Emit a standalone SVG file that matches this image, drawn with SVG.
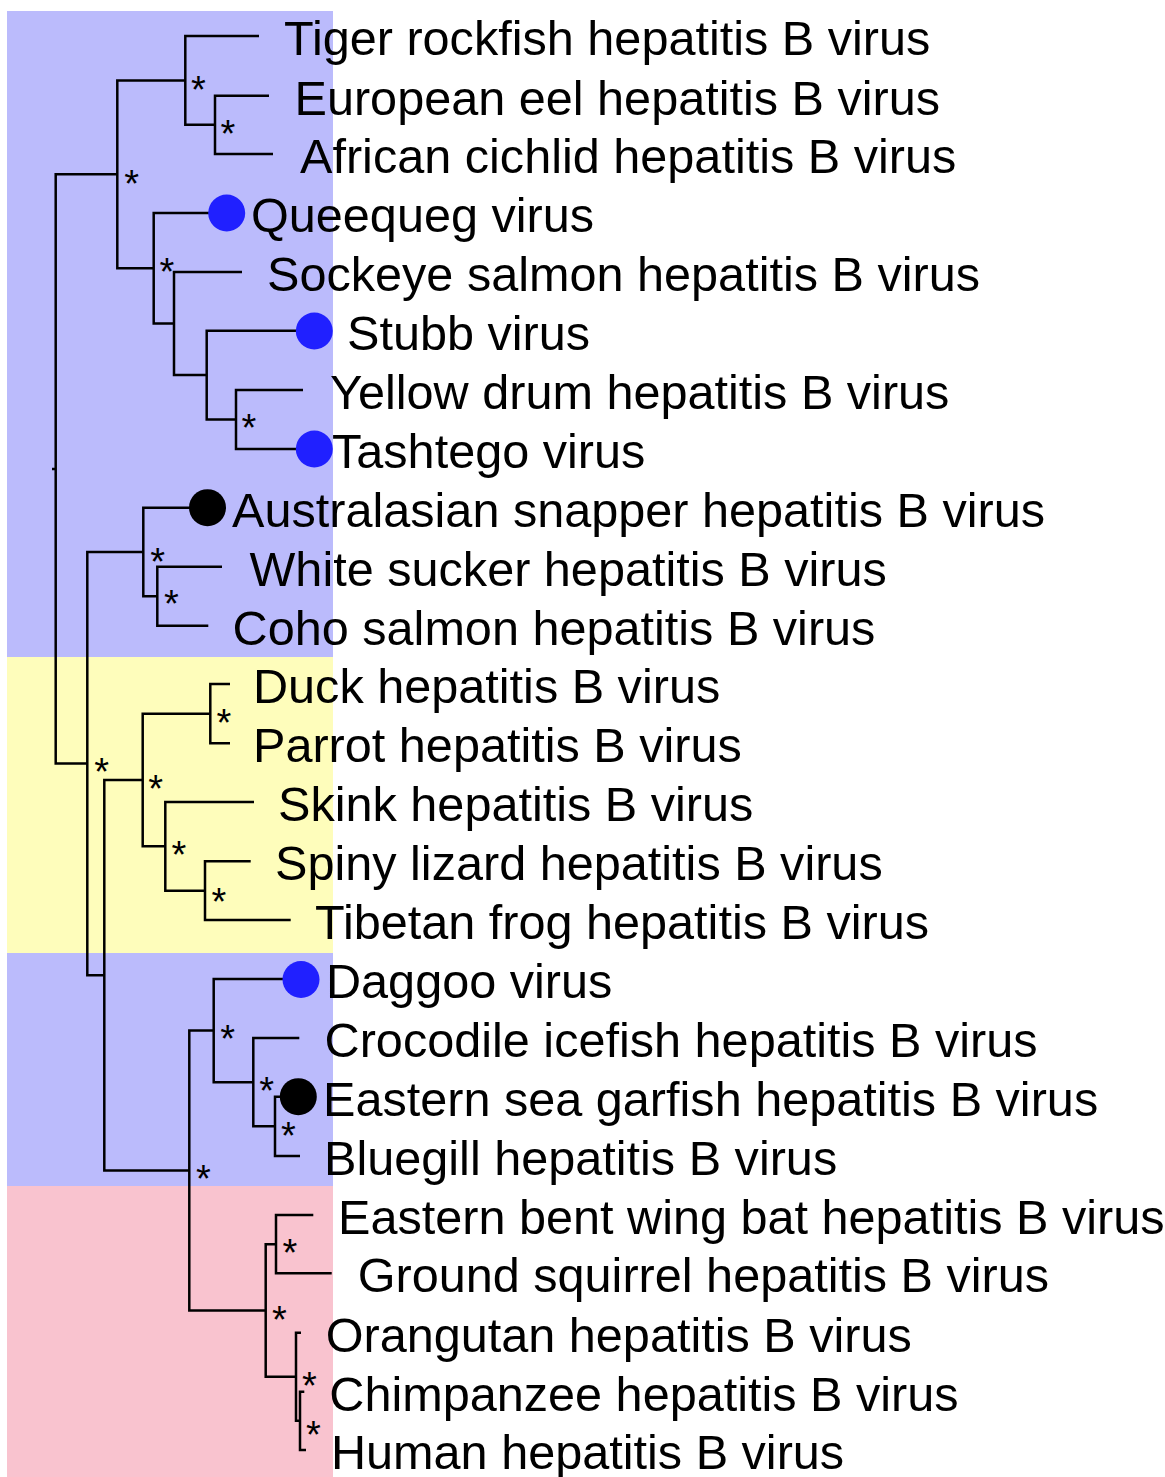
<svg xmlns="http://www.w3.org/2000/svg" width="1165" height="1477" viewBox="0 0 1165 1477">
<style>
.lbl{font-family:"Liberation Sans",Arial,Helvetica,sans-serif;font-size:48.6px;fill:#000}
.st{font-family:"Liberation Sans",Arial,sans-serif;font-size:38px;fill:#000;text-anchor:middle}
.br{fill:none;stroke:#000;stroke-width:2.5;stroke-linejoin:miter;stroke-linecap:butt}
.cb{fill:#2020ff}
.ck{fill:#000}
</style>
<rect width="1165" height="1477" fill="#fff"/>
<g id="bands">
<rect x="7" y="11" width="326" height="646" fill="#bbbbfc"/>
<rect x="7" y="657" width="326" height="296" fill="#fefdbb"/>
<rect x="7" y="953" width="326" height="233" fill="#bbbbfc"/>
<rect x="7" y="1186" width="326" height="291" fill="#f9c3cf"/>
</g>
<g id="connectors" class="br">
<path d="M269,95.7 H215 V154 H273"/>
<path d="M259,36 H185.3 V124.85 H215"/>
<path d="M303,390 H236 V449 H314"/>
<path d="M314,330.7 H206.7 V419.5 H236"/>
<path d="M242,272 H174 V375.1 H206.7"/>
<path d="M226,213 H153.7 V323.5 H174"/>
<path d="M185.3,80.4 H117.3 V268.3 H153.7"/>
<path d="M222,566.7 H157.3 V625.7 H208.3"/>
<path d="M208,507.7 H143.3 V596.2 H157.3"/>
<path d="M230,684 H210.3 V743.3 H230"/>
<path d="M250.7,861.3 H205 V920 H290.7"/>
<path d="M254,802 H165.3 V890.7 H205"/>
<path d="M210.3,713.7 H142.7 V846.3 H165.3"/>
<path d="M298,1096.7 H275 V1156 H300"/>
<path d="M299.3,1038 H253.3 V1126.3 H275"/>
<path d="M301,979 H213.7 V1082.2 H253.3"/>
<path d="M313.3,1215 H276 V1273.3 H331.7"/>
<path d="M304.3,1391.7 H300 V1450 H306"/>
<path d="M301,1332.7 H296 V1420.8 H300"/>
<path d="M276,1244.2 H265.7 V1376.8 H296"/>
<path d="M213.7,1030.6 H189.3 V1310.5 H265.7"/>
<path d="M142.7,780 H104.3 V1170.5 H189.3"/>
<path d="M143.3,552 H87.3 V975.3 H104.3"/>
<path d="M117.3,174.3 H55.7 V763.6 H87.3"/>
<path d="M52,469 H56"/>
</g>
<g id="support">
<text class="st" x="198.5" y="103">*</text>
<text class="st" x="228" y="146.5">*</text>
<text class="st" x="131.7" y="196.5">*</text>
<text class="st" x="167" y="284.5">*</text>
<text class="st" x="249" y="441.2">*</text>
<text class="st" x="157.7" y="574.5">*</text>
<text class="st" x="171.3" y="616.5">*</text>
<text class="st" x="101.7" y="784.5">*</text>
<text class="st" x="155.7" y="801.8">*</text>
<text class="st" x="224" y="735.5">*</text>
<text class="st" x="179" y="867.8">*</text>
<text class="st" x="219" y="914.5">*</text>
<text class="st" x="203.3" y="1191.8">*</text>
<text class="st" x="227.7" y="1051.8">*</text>
<text class="st" x="266.7" y="1103.5">*</text>
<text class="st" x="288.3" y="1148.5">*</text>
<text class="st" x="279.3" y="1332.8">*</text>
<text class="st" x="290" y="1265.5">*</text>
<text class="st" x="309.3" y="1398.8">*</text>
<text class="st" x="313.3" y="1447.8">*</text>
</g>
<g id="leaf-tiger"><text class="lbl" x="284" y="55">Tiger rockfish hepatitis B virus</text></g>
<g id="leaf-eel"><text class="lbl" x="294.5" y="114.7">European eel hepatitis B virus</text></g>
<g id="leaf-cichlid"><text class="lbl" x="300" y="173">African cichlid hepatitis B virus</text></g>
<g id="leaf-queequeg"><circle class="cb" cx="226.7" cy="213" r="18.5"/><text class="lbl" x="251" y="232">Queequeg virus</text></g>
<g id="leaf-sockeye"><text class="lbl" x="267" y="291">Sockeye salmon hepatitis B virus</text></g>
<g id="leaf-stubb"><circle class="cb" cx="314.3" cy="331" r="18.5"/><text class="lbl" x="347" y="349.7">Stubb virus</text></g>
<g id="leaf-yellowdrum"><text class="lbl" x="330" y="409">Yellow drum hepatitis B virus</text></g>
<g id="leaf-tashtego"><circle class="cb" cx="314.3" cy="449" r="18.5"/><text class="lbl" x="332" y="468">Tashtego virus</text></g>
<g id="leaf-australasian"><circle class="ck" cx="207.5" cy="507.7" r="18.5"/><text class="lbl" x="232" y="526.7">Australasian snapper hepatitis B virus</text></g>
<g id="leaf-whitesucker"><text class="lbl" x="249.5" y="585.7">White sucker hepatitis B virus</text></g>
<g id="leaf-coho"><text class="lbl" x="232.6" y="644.7">Coho salmon hepatitis B virus</text></g>
<g id="leaf-duck"><text class="lbl" x="253" y="703">Duck hepatitis B virus</text></g>
<g id="leaf-parrot"><text class="lbl" x="253" y="762.3">Parrot hepatitis B virus</text></g>
<g id="leaf-skink"><text class="lbl" x="278" y="821">Skink hepatitis B virus</text></g>
<g id="leaf-spiny"><text class="lbl" x="275" y="880.3">Spiny lizard hepatitis B virus</text></g>
<g id="leaf-tibetan"><text class="lbl" x="315" y="939">Tibetan frog hepatitis B virus</text></g>
<g id="leaf-daggoo"><circle class="cb" cx="301" cy="979.5" r="18.5"/><text class="lbl" x="326" y="998">Daggoo virus</text></g>
<g id="leaf-icefish"><text class="lbl" x="324.6" y="1057">Crocodile icefish hepatitis B virus</text></g>
<g id="leaf-garfish"><circle class="ck" cx="298.3" cy="1096.7" r="18.5"/><text class="lbl" x="323" y="1115.7">Eastern sea garfish hepatitis B virus</text></g>
<g id="leaf-bluegill"><text class="lbl" x="324" y="1175">Bluegill hepatitis B virus</text></g>
<g id="leaf-bat"><text class="lbl" x="338" y="1234">Eastern bent wing bat hepatitis B virus</text></g>
<g id="leaf-squirrel"><text class="lbl" x="357.7" y="1292.3">Ground squirrel hepatitis B virus</text></g>
<g id="leaf-orangutan"><text class="lbl" x="325.7" y="1351.7">Orangutan hepatitis B virus</text></g>
<g id="leaf-chimp"><text class="lbl" x="329.3" y="1410.7">Chimpanzee hepatitis B virus</text></g>
<g id="leaf-human"><text class="lbl" x="331" y="1469">Human hepatitis B virus</text></g>
</svg>
